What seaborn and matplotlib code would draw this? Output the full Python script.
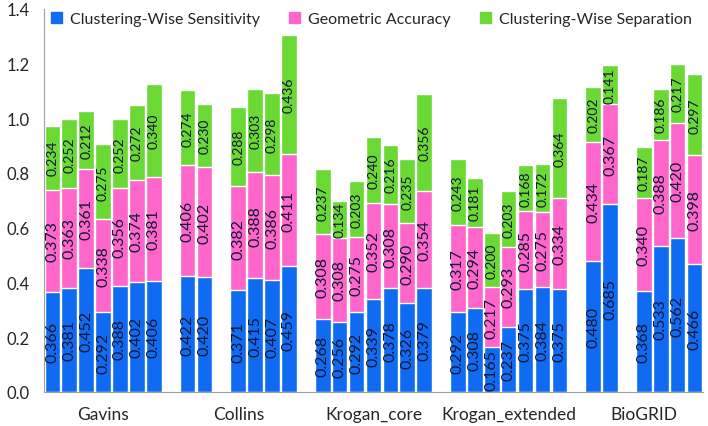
import pandas as pd
import numpy as np
import matplotlib
matplotlib.use("Agg")
import matplotlib.pyplot as plt
import seaborn as sns
from matplotlib.patches import Patch

BLUE = "#0f6cf2"
PINK = "#ff66cc"
GREEN = "#6ad934"
TXT = "#141432"

datasets = ["Gavins", "Collins", "Krogan_core", "Krogan_extended", "BioGRID"]
n_methods = 7

# one list per dataset, None = method not run on that dataset
sens = {
    "Gavins": [0.366, 0.381, 0.452, 0.292, 0.388, 0.402, 0.406],
    "Collins": [0.422, 0.420, None, 0.371, 0.415, 0.407, 0.459],
    "Krogan_core": [0.268, 0.256, 0.292, 0.339, 0.378, 0.326, 0.379],
    "Krogan_extended": [0.292, 0.308, 0.165, 0.237, 0.375, 0.384, 0.375],
    "BioGRID": [0.480, 0.685, None, 0.368, 0.533, 0.562, 0.466],
}
acc = {
    "Gavins": [0.373, 0.363, 0.361, 0.338, 0.356, 0.374, 0.381],
    "Collins": [0.406, 0.402, None, 0.382, 0.388, 0.386, 0.411],
    "Krogan_core": [0.308, 0.308, 0.275, 0.352, 0.308, 0.290, 0.354],
    "Krogan_extended": [0.317, 0.294, 0.217, 0.293, 0.285, 0.275, 0.334],
    "BioGRID": [0.434, 0.367, None, 0.340, 0.388, 0.420, 0.398],
}
sep = {
    "Gavins": [0.234, 0.252, 0.212, 0.275, 0.252, 0.272, 0.340],
    "Collins": [0.274, 0.230, None, 0.288, 0.303, 0.298, 0.436],
    "Krogan_core": [0.237, 0.134, 0.203, 0.240, 0.216, 0.235, 0.356],
    "Krogan_extended": [0.243, 0.181, 0.200, 0.203, 0.168, 0.172, 0.364],
    "BioGRID": [0.202, 0.141, None, 0.187, 0.186, 0.217, 0.297],
}

rows = []
for g, name in enumerate(datasets):
    for m in range(n_methods):
        if sens[name][m] is None:
            continue
        rows.append({"pos": g * (n_methods + 1) + m, "dataset": name,
                     "sens": sens[name][m], "acc": acc[name][m], "sep": sep[name][m]})
df = pd.DataFrame(rows)
df["c1"] = df["sens"]
df["c2"] = df["sens"] + df["acc"]
df["c3"] = df["c2"] + df["sep"]

sns.set_style("white")
plt.rcParams["font.family"] = ["Lato", "DejaVu Sans"]

fig = plt.figure(figsize=(7.08, 4.27), dpi=100)
ax = fig.add_axes([0.062, 0.080, 0.931, 0.897])

# stacked bars drawn as overlapping cumulative layers
for col, color in [("c3", GREEN), ("c2", PINK), ("c1", BLUE)]:
    sns.barplot(data=df, x="pos", y=col, native_scale=True, color=color,
                width=0.92, edgecolor="white", linewidth=1.0, saturation=1,
                ax=ax, errorbar=None)

for _, r in df.iterrows():
    ax.text(r["pos"], r["sens"] / 2, f"{r['sens']:.3f}", rotation=90,
            ha="center", va="center", fontsize=11.5, color=TXT)
    ax.text(r["pos"], r["c1"] + r["acc"] / 2, f"{r['acc']:.3f}", rotation=90,
            ha="center", va="center", fontsize=11.5, color=TXT)
    ax.text(r["pos"], r["c2"] + r["sep"] / 2, f"{r['sep']:.3f}", rotation=90,
            ha="center", va="center", fontsize=10, color=TXT)

ax.set_xlim(-0.5, len(datasets) * (n_methods + 1) - 1.5)
ax.set_ylim(0, 1.4)
ax.set_yticks(np.arange(0, 1.41, 0.2))
ax.set_yticklabels([f"{v:.1f}" for v in np.arange(0, 1.41, 0.2)], fontsize=12)
ax.set_xticks([g * (n_methods + 1) + 3 for g in range(len(datasets))])
ax.set_xticklabels(datasets, fontsize=12.5)
ax.set_xlabel("")
ax.set_ylabel("")
ax.tick_params(axis="x", length=0, pad=10)
ax.tick_params(axis="y", length=3, direction="in", color="#999999", pad=10)
for s in ["top", "right"]:
    ax.spines[s].set_visible(False)
for s in ["left", "bottom"]:
    ax.spines[s].set_color("#a0a0a0")

handles = [Patch(color=BLUE, label="Clustering-Wise Sensitivity"),
           Patch(color=PINK, label="Geometric Accuracy"),
           Patch(color=GREEN, label="Clustering-Wise Separation")]
ax.legend(handles=handles, loc="upper center", bbox_to_anchor=(0.497, 1.03), ncol=3,
          frameon=False, fontsize=11.5, handlelength=0.7, handleheight=0.7,
          columnspacing=1.8, handletextpad=0.5)

plt.savefig("out.png", dpi=100)
